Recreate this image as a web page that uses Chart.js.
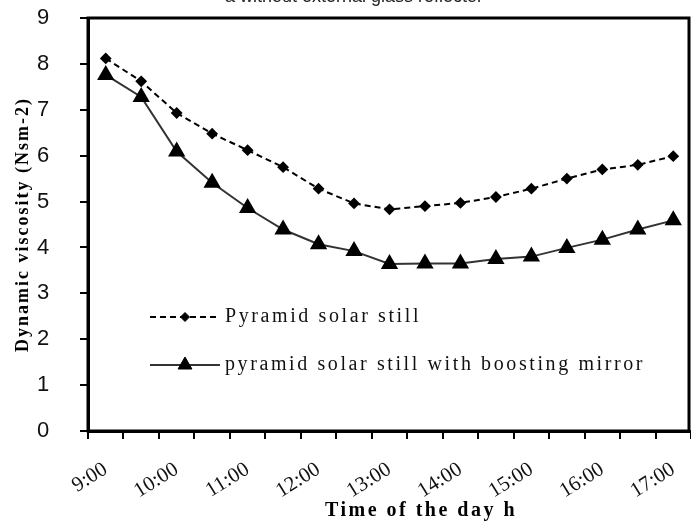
<!DOCTYPE html>
<html lang="en">
<head>
    <meta charset="UTF-8">
    <title>Dynamic viscosity</title>
    <script src="https://cdn.jsdelivr.net/npm/chart.js"></script>
    <style>
        html, body { margin: 0; padding: 0; background: #fff; }
        canvas { display: block; }
    </style>
</head>
<body>

    <canvas id="myChart" width="691" height="522"></canvas>

    <script>
        // categories: every half hour from 9:00 to 17:00
        const times = ['9:00', '9:30', '10:00', '10:30', '11:00', '11:30', '12:00', '12:30',
            '13:00', '13:30', '14:00', '14:30', '15:00', '15:30', '16:00', '16:30', '17:00'];

        // series values
        const pyramidStill = [8.12, 7.62, 6.93, 6.48, 6.12, 5.75, 5.28, 4.96, 4.83,
            4.90, 4.97, 5.10, 5.28, 5.50, 5.70, 5.80, 5.99];
        const pyramidMirror = [7.76, 7.28, 6.09, 5.41, 4.86, 4.39, 4.07, 3.92, 3.64,
            3.65, 3.65, 3.75, 3.80, 3.99, 4.17, 4.39, 4.59];

        const seriesNames = ['Pyramid solar still', 'pyramid solar still with boosting mirror'];

        // y ticks 0..9
        const yMin = 0;
        const yMax = 9;
        const yStep = 1;

        const xTitle = 'Time of the day h';
        const yTitle = 'Dynamic viscosity (Nsm-2)';
        const topText = 'a without external glass reflector';

        // frame, titles and legend drawn inside the chart area
        const extras = {
            id: 'extras',
            afterDraw(chart) {
                const ctx = chart.ctx;
                const a = chart.chartArea;
                // the original plot is cut a little on the right
                const right = Math.min(a.right, chart.width - 2);
                ctx.save();

                // thick frame round the plot
                ctx.strokeStyle = '#000';
                ctx.lineWidth = 3;
                ctx.strokeRect(a.left, a.top, right - a.left, a.bottom - a.top);

                // cut off caption at the top
                ctx.fillStyle = '#222';
                ctx.font = '18px "Liberation Sans", Arial, sans-serif';
                ctx.textAlign = 'center';
                ctx.textBaseline = 'alphabetic';
                ctx.fillText(topText, 354, 2);

                // axis titles
                ctx.fillStyle = '#000';
                ctx.letterSpacing = '2.5px';
                ctx.font = 'bold 20px "Liberation Serif", "Times New Roman", serif';
                ctx.textBaseline = 'alphabetic';
                ctx.fillText(xTitle, 421, 516);

                ctx.letterSpacing = '2px';
                ctx.font = 'bold 18px "Liberation Serif", "Times New Roman", serif';
                ctx.translate(28, (a.top + a.bottom) / 2);
                ctx.rotate(-Math.PI / 2);
                ctx.textBaseline = 'alphabetic';
                ctx.fillText(yTitle, 0, 0);
                ctx.setTransform(1, 0, 0, 1, 0, 0);

                // legend
                ctx.letterSpacing = '2.6px';
                ctx.font = '20px "Liberation Serif", "Times New Roman", serif';
                ctx.textAlign = 'left';
                ctx.textBaseline = 'middle';
                const rows = [317, 365];
                chart.data.datasets.forEach((ds, i) => {
                    const y = rows[i];
                    ctx.save();
                    ctx.strokeStyle = ds.borderColor;
                    ctx.lineWidth = ds.borderWidth;
                    ctx.setLineDash(ds.borderDash || []);
                    ctx.beginPath();
                    ctx.moveTo(150, y);
                    ctx.lineTo(220, y);
                    ctx.stroke();
                    ctx.setLineDash([]);
                    ctx.fillStyle = ds.pointBackgroundColor;
                    ctx.strokeStyle = ds.pointBorderColor;
                    ctx.lineWidth = 1;
                    Chart.helpers.drawPoint(ctx, {
                        pointStyle: ds.pointStyle,
                        radius: ds.pointRadius,
                        rotation: 0,
                        borderWidth: 1
                    }, 185, y);
                    ctx.restore();
                    ctx.fillStyle = '#111';
                    ctx.fillText(seriesNames[i], 225, y);
                });

                ctx.restore();
            }
        };

        const ctx = document.getElementById('myChart').getContext('2d');
        new Chart(ctx, {
            type: 'line',
            data: {
                labels: times,
                datasets: [{
                    label: seriesNames[0],
                    data: pyramidStill,
                    borderColor: '#000',
                    borderWidth: 2,
                    borderDash: [6, 4],
                    pointStyle: 'rectRot',
                    pointRadius: 4.5,
                    pointBackgroundColor: '#000',
                    pointBorderColor: '#000',
                    tension: 0
                }, {
                    label: seriesNames[1],
                    data: pyramidMirror,
                    borderColor: '#333',
                    borderWidth: 2,
                    pointStyle: 'triangle',
                    pointRadius: 8,
                    pointBackgroundColor: '#000',
                    pointBorderColor: '#000',
                    tension: 0
                }]
            },
            options: {
                responsive: false,
                animation: false,
                layout: {
                    autoPadding: false,
                    padding: { top: 18, right: 0, left: 37, bottom: 0 }
                },
                plugins: {
                    legend: { display: false },
                    tooltip: { enabled: false }
                },
                scales: {
                    x: {
                        offset: true,
                        afterFit: function(scale) {
                            scale.height = 91;
                            scale.paddingLeft = 0;
                            scale.paddingRight = 0;
                        },
                        border: { display: true, color: '#000', width: 3 },
                        grid: {
                            offset: true,
                            drawOnChartArea: false,
                            drawTicks: true,
                            tickLength: 8,
                            color: '#000',
                            lineWidth: 2
                        },
                        ticks: {
                            autoSkip: false,
                            maxRotation: 32,
                            minRotation: 32,
                            padding: 18,
                            color: '#111',
                            font: { family: '"Liberation Serif", "Times New Roman", serif', size: 21 },
                            callback: function(value, index) {
                                const t = times[index];
                                return t.endsWith(':00') ? t : '';
                            }
                        }
                    },
                    y: {
                        min: yMin,
                        max: yMax,
                        afterFit: function(scale) { scale.width = 51; },
                        border: { display: true, color: '#000', width: 3 },
                        grid: {
                            drawOnChartArea: false,
                            drawTicks: true,
                            tickLength: 8,
                            color: '#000',
                            lineWidth: 2
                        },
                        ticks: {
                            stepSize: yStep,
                            padding: 0,
                            crossAlign: 'far',
                            color: '#111',
                            font: { family: '"Liberation Sans", Arial, sans-serif', size: 22 }
                        }
                    }
                }
            },
            plugins: [extras]
        });
    </script>
</body>
</html>
